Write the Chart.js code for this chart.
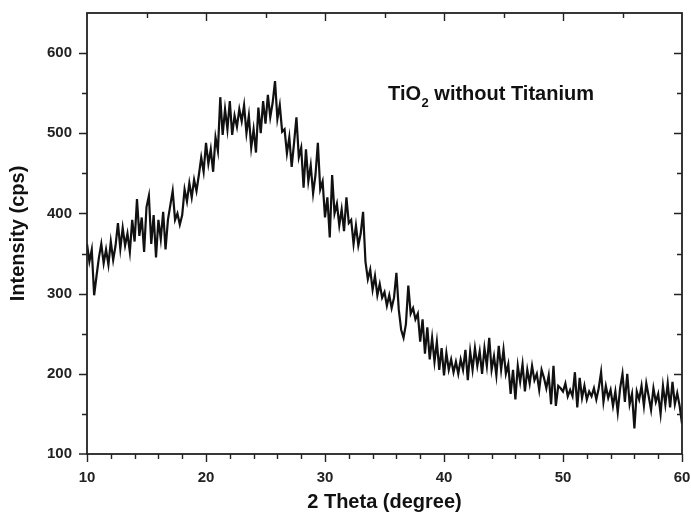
<!DOCTYPE html>
<html>
<head>
<meta charset="utf-8">
<script src="https://cdn.jsdelivr.net/npm/chart.js@4.4.1/dist/chart.umd.min.js"></script>
<style>
  html, body { margin: 0; padding: 0; background: #fff; }
  #wrap { width: 691px; height: 514px; }
</style>
</head>
<body>
<div id="wrap"><canvas id="xrdChart" width="691" height="514"></canvas></div>
<script>
// 2 theta sampling: 10 to 60 degrees, one reading every 0.2 degree
const thetaStart = 10;
const thetaStep = 0.2;

// intensity (cps), 5 readings per degree
const intensity = [
  362, 340, 355, 298, 322,   // 10
  345, 362, 338, 355, 336,   // 11
  365, 342, 360, 388, 356,   // 12
  382, 360, 375, 352, 392,   // 13
  365, 418, 372, 395, 352,   // 14
  408, 422, 362, 398, 345,   // 15
  392, 368, 402, 355, 392,   // 16
  410, 428, 392, 400, 386,   // 17
  398, 430, 415, 438, 420,   // 18
  442, 428, 448, 470, 452,   // 19
  488, 462, 480, 452, 495,   // 20
  478, 545, 498, 530, 505,   // 21
  540, 498, 522, 508, 530,   // 22
  515, 535, 500, 522, 482,   // 23
  505, 476, 532, 500, 540,   // 24
  512, 548, 520, 538, 565,   // 25
  518, 535, 502, 505, 475,   // 26
  495, 458, 488, 520, 470,   // 27
  482, 432, 480, 440, 460,   // 28
  425, 448, 488, 430, 440,   // 29
  395, 420, 370, 448, 400,   // 30
  412, 385, 405, 378, 420,   // 31
  388, 392, 362, 385, 360,   // 32
  375, 402, 340, 318, 330,   // 33
  305, 322, 298, 312, 295,   // 34
  302, 285, 298, 282, 295,   // 35
  326, 280, 255, 245, 262,   // 36
  310, 275, 282, 268, 275,   // 37
  240, 268, 225, 258, 218,   // 38
  245, 215, 240, 205, 232,   // 39
  198, 226, 205, 218, 202,   // 40
  215, 200, 218, 205, 230,   // 41
  192, 228, 205, 232, 210,   // 42
  228, 200, 232, 210, 245,   // 43
  205, 222, 198, 235, 205,   // 44
  230, 200, 212, 175, 205,   // 45
  168, 210, 190, 212, 178,   // 46
  205, 188, 210, 192, 200,   // 47
  180, 205, 195, 182, 198,   // 48
  162, 210, 160, 185, 182,   // 49
  178, 188, 172, 180, 172,   // 50
  202, 158, 195, 170, 185,   // 51
  168, 178, 172, 182, 168,   // 52
  182, 202, 165, 185, 170,   // 53
  180, 160, 178, 152, 182,   // 54
  200, 165, 200, 162, 175,   // 55
  132, 178, 168, 185, 160,   // 56
  188, 172, 155, 182, 165,   // 57
  175, 150, 185, 162, 188,   // 58
  158, 190, 162, 176, 160,   // 59
  138                        // 60
];

const xTickValues = [10, 20, 30, 40, 50, 60];
const yTickValues = [100, 200, 300, 400, 500, 600];

const xAxisTitle = "2 Theta (degree)";
const yAxisTitle = "Intensity (cps)";
const noteMain = "TiO";
const noteSub = "2";
const noteRest = " without Titanium";

const points = intensity.map((v, i) => ({ x: thetaStart + i * thetaStep, y: v }));

const fontFamily = "'Liberation Sans', Arial, sans-serif";

function noPad(s) {
    s.paddingLeft = 0;
    s.paddingRight = 0;
    s.paddingTop = 0;
    s.paddingBottom = 0;
}

// frame, minor ticks, and the label inside the plot
const framePlugin = {
    id: "frame",
    afterDraw(chart) {
        const ctx = chart.ctx;
        const area = chart.chartArea;
        const xs = chart.scales.x;
        const ys = chart.scales.y;

        ctx.save();
        ctx.strokeStyle = "#222";
        ctx.lineWidth = 1.8;
        ctx.strokeRect(area.left, area.top, area.right - area.left, area.bottom - area.top);

        ctx.lineWidth = 1.4;
        ctx.beginPath();
        // bottom: outward, major every 10, minor every 2
        for (let t = 10; t <= 60; t += 2) {
            const px = Math.round(xs.getPixelForValue(t)) + 0.5;
            const len = t % 10 === 0 ? 8 : 5;
            ctx.moveTo(px, area.bottom);
            ctx.lineTo(px, area.bottom + len);
        }
        // top: inward, every 5
        for (let t = 15; t < 60; t += 5) {
            const px = Math.round(xs.getPixelForValue(t)) + 0.5;
            const len = t % 10 === 0 ? 8 : 5;
            ctx.moveTo(px, area.top);
            ctx.lineTo(px, area.top + len);
        }
        // left: outward, right: inward, every 50
        for (let v = 150; v < 650; v += 50) {
            const py = Math.round(ys.getPixelForValue(v)) + 0.5;
            const len = v % 100 === 0 ? 8 : 5;
            ctx.moveTo(area.left, py);
            ctx.lineTo(area.left - len, py);
            ctx.moveTo(area.right, py);
            ctx.lineTo(area.right - len, py);
        }
        ctx.moveTo(area.left, area.bottom);
        ctx.lineTo(area.left - 8, area.bottom);
        ctx.stroke();

        // label
        const lx = xs.getPixelForValue(35.3);
        const ly = ys.getPixelForValue(541);
        ctx.fillStyle = "#111";
        ctx.textBaseline = "alphabetic";
        ctx.textAlign = "left";
        ctx.font = "bold 20px " + fontFamily;
        ctx.fillText(noteMain, lx, ly);
        let w = ctx.measureText(noteMain).width;
        ctx.font = "bold 13px " + fontFamily;
        ctx.fillText(noteSub, lx + w + 0.5, ly + 7);
        w += ctx.measureText(noteSub).width + 0.5;
        ctx.font = "bold 20px " + fontFamily;
        ctx.fillText(noteRest, lx + w, ly);
        ctx.restore();
    }
};

new Chart(document.getElementById("xrdChart"), {
    type: 'line',
    data: {
        datasets: [{
            label: 'Intensity',
            data: points,
            borderColor: '#111',
            borderWidth: 2.2,
            pointRadius: 0,
            tension: 0,
            fill: false
        }]
    },
    options: {
        responsive: false,
        animation: false,
        events: [],
        layout: { padding: { top: 13, right: 9, left: 0, bottom: 0 } },
        plugins: {
            legend: { display: false },
            tooltip: { enabled: false }
        },
        scales: {
            x: {
                type: 'linear',
                min: 10,
                max: 60,
                afterBuildTicks: s => { s.ticks = xTickValues.map(v => ({ value: v })); },
                afterFit: s => { s.height = 60; noPad(s); },
                grid: { display: false, drawTicks: false },
                border: { display: false },
                ticks: {
                    padding: 15,
                    maxRotation: 0,
                    color: '#222',
                    font: { family: fontFamily, size: 15, weight: 'bold' }
                },
                title: {
                    display: true,
                    text: xAxisTitle,
                    color: '#111',
                    padding: { top: 0, bottom: 0 },
                    font: { family: fontFamily, size: 20, weight: 'bold' }
                }
            },
            y: {
                type: 'linear',
                min: 100,
                max: 650,
                afterBuildTicks: s => { s.ticks = yTickValues.map(v => ({ value: v })); },
                afterFit: s => { s.width = 87; noPad(s); },
                grid: { display: false, drawTicks: false },
                border: { display: false },
                ticks: {
                    padding: 15,
                    color: '#222',
                    font: { family: fontFamily, size: 15, weight: 'bold' }
                },
                title: {
                    display: true,
                    text: yAxisTitle,
                    color: '#111',
                    padding: { top: 6, bottom: 0 },
                    font: { family: fontFamily, size: 20, weight: 'bold' }
                }
            }
        }
    },
    plugins: [framePlugin]
});
</script>
</body>
</html>
